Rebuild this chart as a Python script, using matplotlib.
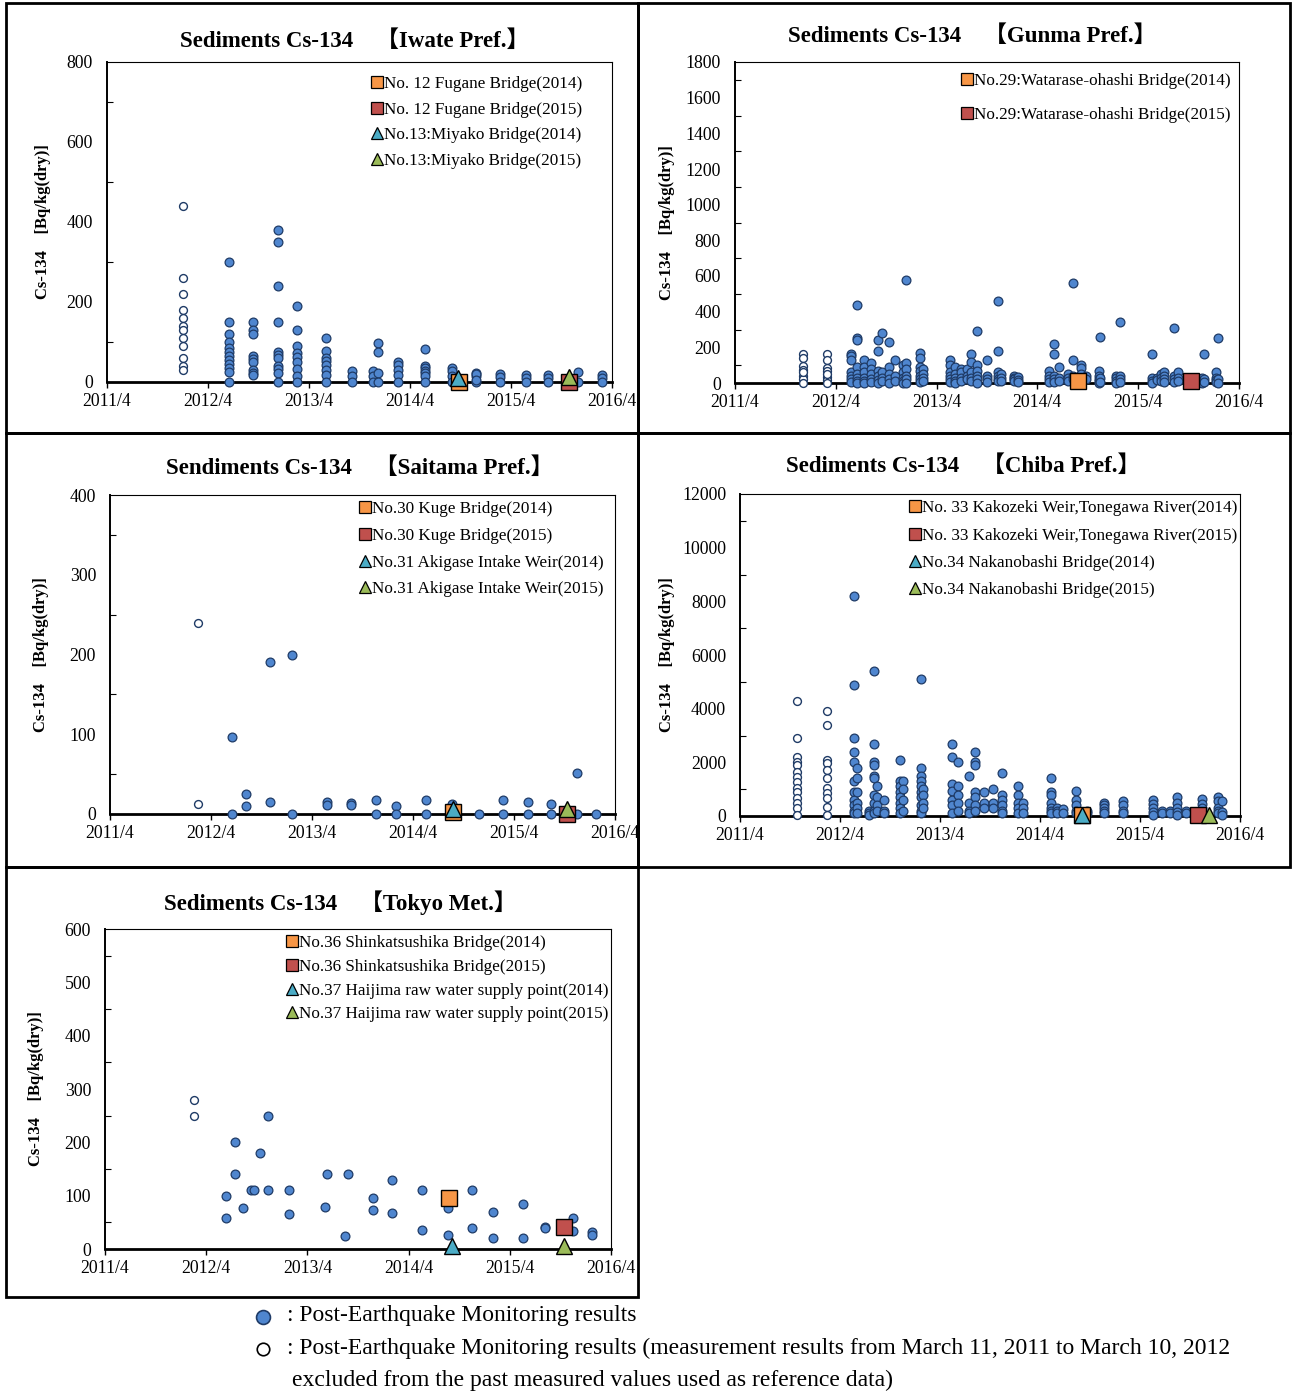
import matplotlib
matplotlib.use("Agg")
import matplotlib.pyplot as plt
from matplotlib.lines import Line2D
from matplotlib.patches import Rectangle
from matplotlib.ticker import MultipleLocator
import pandas as pd

W, H = 1292, 1393
plt.rcParams['font.family'] = ['Liberation Serif', 'Noto Sans CJK JP']

year_ticks = [f'{y}-04-01' for y in range(2011, 2017)]
year_labels = [f'{y}/4' for y in range(2011, 2017)]

# ---------------- Iwate ----------------
iwate_dates = ['2012-06-15', '2012-09-10', '2012-12-10', '2013-02-15', '2013-06-01',
               '2013-09-05', '2013-11-18', '2013-12-05', '2014-02-15', '2014-05-25',
               '2014-09-01', '2014-11-25', '2015-02-20', '2015-05-25', '2015-08-15',
               '2015-11-30', '2016-02-25']
iwate_vals = [[300, 150, 120, 100, 85, 75, 65, 55, 45, 35, 25, 0],
              [150, 130, 120, 65, 58, 50, 30, 22, 18],
              [380, 350, 240, 150, 75, 68, 60, 40, 32, 22, 0],
              [190, 130, 90, 72, 62, 50, 32, 15, 0],
              [110, 78, 60, 52, 42, 30, 18, 0],
              [28, 15, 0],
              [28, 15, 0],
              [97, 75, 22, 0],
              [49, 42, 30, 18, 0],
              [83, 40, 35, 28, 22, 15, 0],
              [36, 28, 15, 0],
              [22, 15, 0, 20, 5],
              [20, 12, 0],
              [18, 10, 0],
              [18, 10, 0],
              [25, 0],
              [18, 10, 0]]
iwate_open_dates = ['2012-01-01']
iwate_open_vals = [[440, 260, 220, 180, 160, 140, 130, 110, 90, 60, 40, 30]]
iwate_labels = ['No. 12 Fugane Bridge(2014)', 'No. 12 Fugane Bridge(2015)',
                'No.13:Miyako Bridge(2014)', 'No.13:Miyako Bridge(2015)']
iwate_special_dates = ['2014-09-25', '2015-10-30', '2014-09-22', '2015-10-30']
iwate_special_vals = [0, 0, 10, 12]

# ---------------- Gunma ----------------
gunma_dates = ['2012-05-25', '2012-06-15', '2012-07-10', '2012-08-05', '2012-09-01',
               '2012-09-15', '2012-10-10', '2012-11-01', '2012-12-01', '2012-12-10',
               '2013-02-01', '2013-02-10', '2013-05-20', '2013-06-05', '2013-06-28',
               '2013-07-20', '2013-08-05', '2013-08-25', '2013-09-30', '2013-11-10',
               '2013-11-20', '2014-01-05', '2014-01-20', '2014-05-15', '2014-06-01',
               '2014-06-20', '2014-07-20', '2014-08-10', '2014-09-05', '2014-09-25',
               '2014-11-10', '2014-11-15', '2015-01-10', '2015-01-25', '2015-05-20',
               '2015-06-08', '2015-06-25', '2015-07-05', '2015-08-10', '2015-08-25',
               '2015-11-20', '2015-11-27', '2016-01-10', '2016-01-15']
gunma_vals = [[160, 150, 130, 60, 40, 20, 5],
              [440, 250, 240, 90, 50, 30, 10, 0],
              [130, 90, 60, 30, 10, 0],
              [110, 80, 50, 20, 5],
              [240, 180, 70, 40, 15, 0],
              [280, 60, 30, 10],
              [230, 90, 50, 20, 0],
              [130, 40, 10],
              [100, 60, 30, 10, 0],
              [580, 110, 80, 40, 20, 0],
              [170, 140, 90, 70, 40, 20, 5],
              [80, 50, 30, 10],
              [130, 100, 60, 40, 20, 5],
              [90, 50, 30, 10, 0],
              [80, 60, 30, 10],
              [80, 40, 20],
              [160, 120, 60, 30, 10],
              [290, 100, 70, 40, 20, 0],
              [130, 40, 20, 5],
              [460, 180, 60, 40, 20, 10],
              [50, 30, 10],
              [40, 30, 20, 10],
              [35, 15, 5],
              [70, 40, 20, 5],
              [220, 160, 40, 20, 5],
              [90, 30, 10],
              [50, 30, 10],
              [560, 130, 40, 20],
              [100, 85, 50, 30, 10],
              [40, 20],
              [70, 40, 20, 10, 0],
              [260, 30, 5],
              [40, 30, 10, 0],
              [340, 40, 20, 5],
              [160, 30, 10, 0],
              [30, 15],
              [50, 30, 10],
              [60, 40, 20, 5],
              [310, 40, 20, 5],
              [60, 30, 10],
              [30, 10, 0],
              [160, 20, 5],
              [60, 30, 15, 5],
              [250, 20, 0]]
gunma_open_dates = ['2011-12-05', '2012-03-01']
gunma_open_vals = [[160, 140, 95, 75, 40, 20, 60, 0],
                   [160, 130, 85, 65, 36, 19, 50, 0]]
gunma_labels = ['No.29:Watarase-ohashi Bridge(2014)', 'No.29:Watarase-ohashi Bridge(2015)']
gunma_special_dates = ['2014-08-25', '2015-10-10']
gunma_special_vals = [10, 10]

# ---------------- Saitama ----------------
saitama_dates = ['2012-06-15', '2012-08-05', '2012-11-01', '2013-01-20', '2013-05-25',
                 '2013-08-20', '2013-11-20', '2014-01-30', '2014-05-20', '2014-08-20',
                 '2014-11-25', '2015-02-20', '2015-05-22', '2015-08-15', '2015-11-15',
                 '2016-01-25']
saitama_vals = [[96, 0], [25, 10], [190, 15], [200, 0], [15, 11], [14, 11], [18, 0],
                [10, 0], [18, 0], [12], [0], [18, 0], [15, 0], [13, 0], [51, 0], [0]]
saitama_open_dates = ['2012-02-15']
saitama_open_vals = [[240, 12]]
saitama_labels = ['No.30 Kuge Bridge(2014)', 'No.30 Kuge Bridge(2015)',
                  'No.31 Akigase Intake Weir(2014)', 'No.31 Akigase Intake Weir(2015)']
saitama_special_dates = ['2014-08-25', '2015-10-10', '2014-08-25', '2015-10-10']
saitama_special_vals = [2, 0, 6, 6]

# ---------------- Chiba ----------------
chiba_dates = ['2012-05-20', '2012-06-01', '2012-07-15', '2012-08-01', '2012-08-15',
               '2012-09-10', '2012-11-05', '2012-11-15', '2013-01-20', '2013-01-30',
               '2013-05-15', '2013-06-05', '2013-07-15', '2013-08-05', '2013-09-10',
               '2013-10-10', '2013-11-15', '2014-01-10', '2014-01-30', '2014-05-10',
               '2014-06-01', '2014-06-25', '2014-08-10', '2014-09-20', '2014-11-20',
               '2015-01-30', '2015-05-20', '2015-06-20', '2015-07-20', '2015-08-15',
               '2015-09-15', '2015-11-15', '2016-01-10', '2016-01-25']
chiba_vals = [[8200, 4900, 2900, 2400, 2000, 1300, 900, 600, 400, 200, 100],
              [1800, 1400, 900, 500, 300, 100],
              [200, 100, 50],
              [5400, 2700, 2000, 1900, 1500, 1400, 800, 500, 200, 100],
              [1100, 700, 400, 200],
              [600, 200, 100],
              [2100, 1300, 1100, 900, 700, 500, 300, 100],
              [1300, 1000, 600, 200],
              [5100, 1800, 1500, 1300, 1100, 900, 700, 400, 200, 100],
              [1000, 800, 500, 300],
              [2700, 2200, 1200, 950, 600, 400, 100],
              [2000, 1100, 800, 500, 200],
              [1500, 500, 200, 100],
              [2400, 2000, 1900, 900, 700, 400, 200],
              [900, 500, 300],
              [1000, 500, 300],
              [1600, 800, 600, 400, 200, 100],
              [1100, 800, 500, 300, 100],
              [500, 300, 100],
              [1400, 900, 800, 500, 300, 200, 100],
              [300, 200, 100],
              [250, 100],
              [950, 600, 400, 200, 100],
              [200, 100],
              [500, 400, 300, 200, 100],
              [550, 400, 200, 100],
              [600, 450, 300, 150, 50],
              [200, 100],
              [200, 100],
              [700, 500, 300, 150, 50],
              [200, 100],
              [650, 450, 300, 150, 50],
              [700, 550, 300, 200, 100],
              [550, 150, 50]]
chiba_open_dates = ['2011-10-28', '2012-02-12']
chiba_open_vals = [[4300, 2900, 2200, 2000, 1900, 1650, 1450, 1280, 1030, 900, 660, 470, 290, 40],
                   [3900, 3400, 2080, 1960, 1710, 1400, 1030, 840, 660, 350, 40]]
chiba_labels = ['No. 33 Kakozeki Weir,Tonegawa River(2014)', 'No. 33 Kakozeki Weir,Tonegawa River(2015)',
                'No.34 Nakanobashi Bridge(2014)', 'No.34 Nakanobashi Bridge(2015)']
chiba_special_dates = ['2014-09-01', '2015-11-01', '2014-09-01', '2015-12-10']
chiba_special_vals = [50, 20, 40, 20]

# ---------------- Tokyo ----------------
tokyo_dates = ['2012-06-10', '2012-07-12', '2012-08-10', '2012-09-10', '2012-09-20',
               '2012-10-10', '2012-11-10', '2013-01-25', '2013-06-05', '2013-06-10',
               '2013-08-15', '2013-08-25', '2013-11-25', '2014-01-30', '2014-05-20',
               '2014-08-20', '2014-11-15', '2015-02-01', '2015-05-20', '2015-08-05',
               '2015-11-17', '2016-01-25']
tokyo_vals = [[100, 58], [200, 140], [77], [110], [110], [180], [250, 110], [110, 65],
              [78], [140], [25], [140], [96, 73], [130, 68], [110, 35], [77, 27],
              [110, 40], [70, 21], [84, 20], [41, 40], [59, 33], [32, 27]]
tokyo_open_dates = ['2012-02-15']
tokyo_open_vals = [[280, 250]]
tokyo_labels = ['No.36 Shinkatsushika Bridge(2014)', 'No.36 Shinkatsushika Bridge(2015)',
                'No.37 Haijima raw water supply point(2014)', 'No.37 Haijima raw water supply point(2015)']
tokyo_special_dates = ['2014-08-25', '2015-10-15', '2014-09-05', '2015-10-15']
tokyo_special_vals = [96, 41, 5, 5]

special_styles = [('s', '#f79646'), ('s', '#c0504d'), ('^', '#4bacc6'), ('^', '#9bbb59')]
BLUE = '#4f86cf'
NAVY = '#1f3b66'


def expand(dates, vals):
    xs, ys = [], []
    for d, v in zip(dates, vals):
        xs += [pd.Timestamp(d)] * len(v)
        ys += v
    return xs, ys


fig = plt.figure(figsize=(W / 100, H / 100), dpi=100)


def panel(box, title, title_x, title_y, ymax, major, minor, ylab_x, ylabel,
          dates, vals, odates, ovals, labels, sdates, svals, leg_x, leg_y, spacing):
    l, t, r, b = box
    ax = fig.add_axes([l / W, 1 - b / H, (r - l) / W, (b - t) / H])
    xs, ys = expand(dates, vals)
    ax.scatter(xs, ys, s=40, c=BLUE, edgecolors=NAVY, linewidths=0.9, zorder=3, clip_on=False)
    ox, oy = expand(odates, ovals)
    ax.scatter(ox, oy, s=32, c='white', edgecolors=NAVY, linewidths=1.0, zorder=3, clip_on=False)
    handles = []
    for i, lab in enumerate(labels):
        m, col = special_styles[i]
        ax.plot([pd.Timestamp(sdates[i])], [svals[i]], marker=m, ls='none', ms=11,
                mfc=col, mec='black', mew=1.0, zorder=5, clip_on=False)
        handles.append(Line2D([], [], marker=m, ls='none', ms=8, mfc=col, mec='black', mew=0.9))
    ax.legend(handles, labels, loc='upper left', bbox_to_anchor=(leg_x, leg_y), frameon=False,
              fontsize=12.3, handlelength=0.6, handletextpad=0.1, borderpad=0, borderaxespad=0,
              labelspacing=spacing)
    ax.set_xlim(pd.Timestamp('2011-04-01'), pd.Timestamp('2016-04-01'))
    ax.set_ylim(0, ymax)
    ax.set_xticks([pd.Timestamp(d) for d in year_ticks])
    ax.set_xticklabels(year_labels)
    ax.yaxis.set_major_locator(MultipleLocator(major))
    ax.yaxis.set_minor_locator(MultipleLocator(minor))
    ax.tick_params(axis='x', direction='out', length=4, width=1, labelsize=12.8, pad=4)
    ax.tick_params(axis='y', which='both', direction='in', length=4, width=0.8, labelsize=12.8, pad=10)
    ax.tick_params(axis='y', which='major', length=0)
    for s in ['top', 'right']:
        ax.spines[s].set_linewidth(0.8)
    ax.spines['left'].set_linewidth(1.4)
    ax.spines['bottom'].set_linewidth(2.0)
    ax.set_ylabel(ylabel, fontsize=12, fontweight='bold')
    ax.yaxis.set_label_coords(ylab_x, 0.5)
    fig.text(title_x / W, 1 - title_y / H, title, ha='center', va='center',
             fontsize=16.5, fontweight='bold')
    return ax


ylab = 'Cs-134\u3000[Bq/kg(dry)]'
panel((107, 62, 612, 382), 'Sediments Cs-134\u3000【Iwate Pref.】', 355, 41, 800, 200, 100, -0.11, ylab,
      iwate_dates, iwate_vals, iwate_open_dates, iwate_open_vals, iwate_labels,
      iwate_special_dates, iwate_special_vals, 0.525, 0.955, 0.55)
panel((735, 62, 1239, 383), 'Sediments Cs-134\u3000【Gunma Pref.】', 972, 36, 1800, 200, 100, -0.12, ylab,
      gunma_dates, gunma_vals, gunma_open_dates, gunma_open_vals, gunma_labels,
      gunma_special_dates, gunma_special_vals, 0.45, 0.965, 1.05)
panel((110, 495, 615, 814), 'Sendiments Cs-134\u3000【Saitama Pref.】', 360, 468, 400, 100, 50, -0.12, ylab,
      saitama_dates, saitama_vals, saitama_open_dates, saitama_open_vals, saitama_labels,
      saitama_special_dates, saitama_special_vals, 0.495, 0.98, 0.62)
panel((740, 494, 1240, 816), 'Sediments Cs-134\u3000【Chiba Pref.】', 963, 466, 12000, 2000, 1000, -0.13, ylab,
      chiba_dates, chiba_vals, chiba_open_dates, chiba_open_vals, chiba_labels,
      chiba_special_dates, chiba_special_vals, 0.34, 0.98, 0.66)
panel((105, 929, 611, 1249), 'Sediments Cs-134\u3000【Tokyo Met.】', 340, 903, 600, 100, 50, -0.12, ylab,
      tokyo_dates, tokyo_vals, tokyo_open_dates, tokyo_open_vals, tokyo_labels,
      tokyo_special_dates, tokyo_special_vals, 0.36, 0.98, 0.45)

# panel frames
for (x0, y0, x1, y1) in [(6, 3, 638, 433), (638, 3, 1290, 433), (6, 433, 638, 867),
                         (638, 433, 1290, 867), (6, 867, 638, 1297)]:
    fig.add_artist(Rectangle((x0 / W, 1 - y1 / H), (x1 - x0) / W, (y1 - y0) / H,
                             transform=fig.transFigure, fill=False, ec='black', lw=2, zorder=10))

# footnote
fig.add_artist(Line2D([263 / W], [1 - 1317 / H], marker='o', ms=10, mfc=BLUE, mec=NAVY, mew=1.2,
                      transform=fig.transFigure))
fig.add_artist(Line2D([263 / W], [1 - 1349 / H], marker='o', ms=9, mfc='white', mec='black', mew=1.2,
                      transform=fig.transFigure))
fig.text(287 / W, 1 - 1316 / H, ': Post-Earthquake Monitoring results', fontsize=17, va='center')
fig.text(287 / W, 1 - 1348 / H, ': Post-Earthquake Monitoring results (measurement results from March 11, 2011 to March 10, 2012',
         fontsize=17, va='center')
fig.text(292 / W, 1 - 1380 / H, 'excluded from the past measured values used as reference data)',
         fontsize=17, va='center')

fig.savefig('out.png', dpi=100)
